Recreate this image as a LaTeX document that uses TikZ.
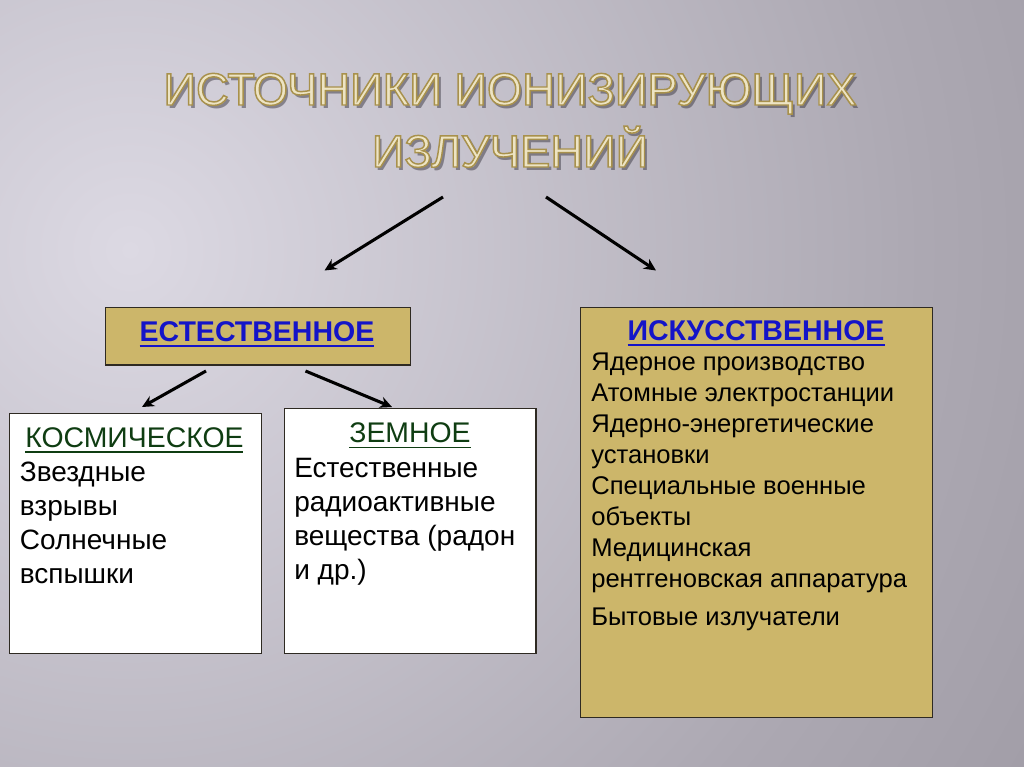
\documentclass[tikz,border=0pt]{standalone}
\usepackage{fontspec}
\setmainfont{Liberation Sans}
\usetikzlibrary{arrows.meta}
\definecolor{bg0}{HTML}{DCD9E3}
\definecolor{bg1}{HTML}{ACA8B2}
\definecolor{bg2}{HTML}{A19DA7}
\definecolor{bg3}{HTML}{84808A}
\definecolor{bg4}{HTML}{706C75}
\definecolor{bg5}{HTML}{6A666F}
\definecolor{boxtan}{HTML}{CCB66A}
\definecolor{boxedge}{HTML}{2E2A22}
\definecolor{headblue}{HTML}{1414C8}
\definecolor{headgreen}{HTML}{0F3D12}
\definecolor{titlefill}{HTML}{EDE4C4}
\definecolor{titleshadow}{HTML}{2A2630}
\pgfdeclareradialshading{bgshade}{\pgfpoint{0bp}{0bp}}{color(0bp)=(bg0); color(18bp)=(bg1); color(24bp)=(bg2); color(40bp)=(bg3); color(46bp)=(bg4); color(50bp)=(bg5)}
\newcommand\ulined[1]{\setbox0\hbox{#1}\hbox{\rlap{\vrule height -3.1pt depth 4.3pt width \wd0}\box0}}
\newcommand\outlined[1]{\special{pdf:code 0.66 0.57 0.30 RG 1.1 w 2 Tr}#1\special{pdf:code 0 Tr}}
\tikzset{
  tanbox/.style={draw=boxedge, fill=boxtan, line width=0.8pt, inner sep=0pt, anchor=north west},
  whitebox/.style={draw=boxedge, fill=white, line width=0.8pt, inner sep=0pt, anchor=north west},
  arr/.style={draw=black, line width=2.3pt, -{Stealth[length=9pt,width=8.5pt]}},
  titletxt/.style={inner sep=0pt, anchor=base, font=\fontsize{34}{40}\selectfont, text=titlefill},
  titleshd/.style={inner sep=0pt, anchor=base, font=\fontsize{34}{40}\selectfont, text=titleshadow, text opacity=0.45},
  headbold/.style={inner sep=0pt, anchor=base, font=\fontsize{21.4}{25}\selectfont\bfseries, text=headblue},
  headgr/.style={inner sep=0pt, font=\fontsize{21.3}{25}\selectfont, text=headgreen},
  bodyl/.style={inner sep=0pt, anchor=base west, font=\fontsize{21}{25}\selectfont, text=black},
  bodyr/.style={inner sep=0pt, anchor=base west, font=\fontsize{19.2}{23}\selectfont, text=black}
}
\begin{document}
\begin{tikzpicture}[x=0.75pt,y=-0.75pt]
\useasboundingbox (0,0) rectangle (1024,767);
\begin{scope}
\clip (0,0) rectangle (1024,767);
\shade[shading=bgshade] (130,250) circle[radius=1100];
\end{scope}
% title
\node[titleshd] (t1s) at (513,108.5) {ИСТОЧНИКИ ИОНИЗИРУЮЩИХ};
\node[titleshd] (t2s) at (513,170.5) {ИЗЛУЧЕНИЙ};
\node[titletxt] (t1) at (510,105) {\outlined{ИСТОЧНИКИ ИОНИЗИРУЮЩИХ}};
\node[titletxt] (t2) at (510,167) {\outlined{ИЗЛУЧЕНИЙ}};
% arrows
\coordinate (a1s) at (443,197); \coordinate (a1e) at (324.5,270.5);
\coordinate (a2s) at (546,197); \coordinate (a2e) at (656,270.5);
\coordinate (a3s) at (206,371); \coordinate (a3e) at (142,407);
\coordinate (a4s) at (305.5,371); \coordinate (a4e) at (392,407);
\draw[arr] (a1s) -- (a1e);
\draw[arr] (a2s) -- (a2e);
\draw[arr] (a3s) -- (a3e);
\draw[arr] (a4s) -- (a4e);
% boxes
\node[tanbox, minimum width=228.75pt, minimum height=43.1pt] (nat) at (104.5,307) {};
\node[whitebox, minimum width=189.4pt, minimum height=180pt] (kosm) at (8.5,413) {};
\node[whitebox, minimum width=188.6pt, minimum height=183.75pt] (zem) at (284,408) {};
\node[tanbox, minimum width=264pt, minimum height=307.5pt] (art) at (580,307) {};
% headings
\node[headbold] (natH) at (257,341) {\ulined{ЕСТЕСТВЕННОЕ}};
\node[headbold] (artH) at (756,340) {\ulined{ИСКУССТВЕННОЕ}};
\node[headgr, anchor=base west] (kosmH) at (25,447) {\ulined{КОСМИЧЕСКОЕ}};
\node[headgr, anchor=base] (zemH) at (410,442.6) {\ulined{ЗЕМНОЕ}};
% body texts
\foreach \t [count=\i] in {Звездные,взрывы,Солнечные,вспышки}
  \node[bodyl] (kosm\i) at (19.6,{481.6+34*(\i-1)}) {\t};
\foreach \t [count=\i] in {Естественные,радиоактивные,вещества (радон,и др.)}
  \node[bodyl] (zem\i) at (294,{477+34.2*(\i-1)}) {\t};
\foreach \t [count=\i] in {Ядерное производство,Атомные электростанции,Ядерно-энергетические,установки,Специальные военные,объекты,Медицинская,рентгеновская аппаратура}
  \node[bodyr] (art\i) at (591,{370.6+31*(\i-1)}) {\t};
\node[bodyr] (art9) at (591,625) {Бытовые излучатели};
\end{tikzpicture}
\end{document}
